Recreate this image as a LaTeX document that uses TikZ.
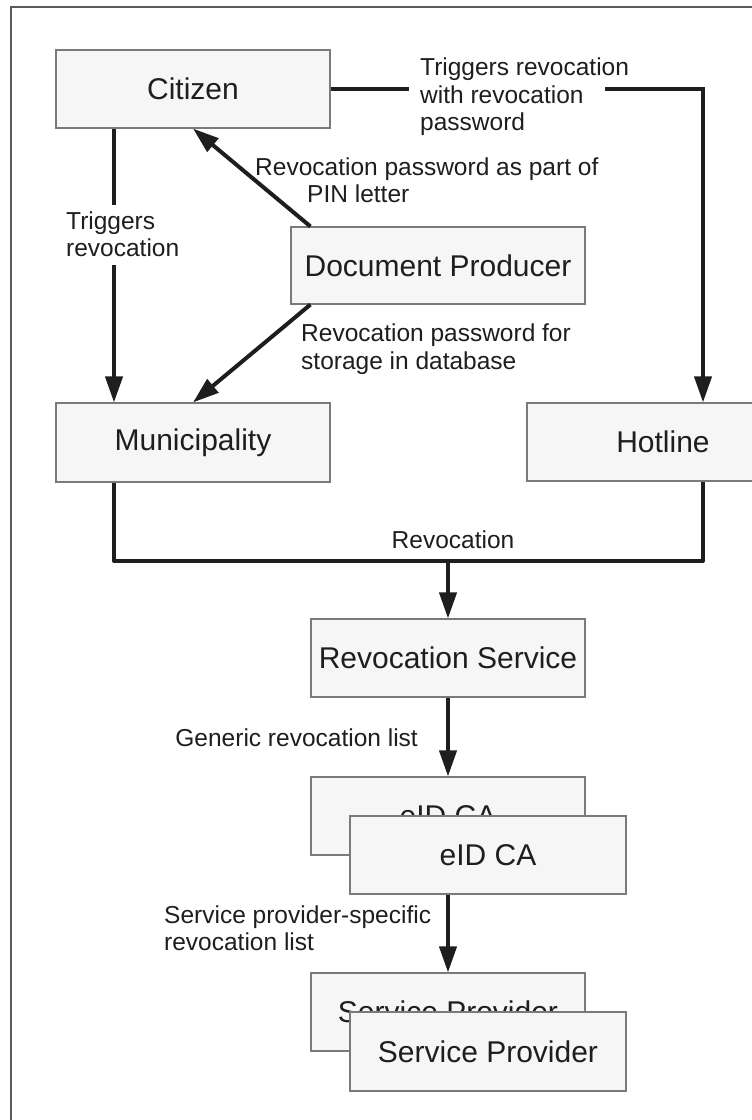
\documentclass[tikz,border=0pt]{standalone}
\usepackage{fontspec}
\setmainfont{Liberation Sans}
\usetikzlibrary{arrows.meta,calc}
\definecolor{boxfill}{HTML}{F6F6F6}
\definecolor{boxline}{HTML}{7A7A7A}
\definecolor{ink}{HTML}{1E1E1E}
\definecolor{framec}{HTML}{5A5A5A}
\tikzset{
  box/.style={draw=boxline, fill=boxfill, line width=1.1pt, minimum width=274pt, minimum height=78pt,
    inner sep=0pt, text=ink, font=\fontsize{30}{34}\selectfont},
  conn/.style={draw=ink, line width=4pt},
  arr/.style={conn, -{Triangle[length=26pt,width=17pt]}},
  lbl/.style={text=ink, inner sep=0pt, align=left, font=\fontsize{24.5}{27.5}\selectfont},
}
\begin{document}
\begin{tikzpicture}[x=1pt,y=-1pt]
\clip (0,0) rectangle (752,1120);
\fill[white] (0,0) rectangle (752,1120);
\draw[framec, line width=2pt] (10.5,7) rectangle (900,1300);

% boxes
\node[box] (cit) at (193,89) {Citizen};
\node[box, minimum width=294pt, minimum height=77pt] (doc) at (438,265.5) {Document Producer};
\node[box, minimum height=79pt] (mun) at (193,442.5) {Municipality};
\node[box, minimum width=272pt] (hot) at (663,442) {Hotline};
\node[box] (rs) at (448,658) {Revocation Service};
\node[box] (eidb) at (448,816) {eID CA};
\node[box, minimum width=276pt] (eidf) at (488,855) {eID CA};
\node[box] (spb) at (448,1012) {Service Provider};
\node[box, minimum width=276pt, minimum height=79pt] (spf) at (488,1051.5) {Service Provider};

% coordinates
\coordinate (gapL) at (409,89);
\coordinate (gapR) at (605,89);
\coordinate (tgA) at (114,205);
\coordinate (tgB) at (114,265);
\coordinate (join) at (448,561);

% connectors
\draw[conn] (cit.east) -- (gapL);
\draw[arr] (gapR) -| ([xshift=40pt]hot.north);
\draw[conn] ([xshift=-79pt]cit.south) -- (tgA);
\draw[arr] (tgB) -- ([xshift=-79pt]mun.north);
\draw[arr] ([xshift=20pt]doc.north west) -- (cit.south);
\draw[arr] ([xshift=20pt]doc.south west) -- (mun.north);
\draw[conn, line join=round] ([xshift=-79pt]mun.south) |- (join) -| ([xshift=40pt]hot.south);
\draw[arr] (join) -- (rs.north);
\draw[arr] (rs.south) -- (eidb.north);
\draw[arr] ([xshift=-40pt]eidf.south) -- (spb.north);

% labels
\node[lbl, anchor=west] (l1) at (420,97) {Triggers revocation\\with revocation\\password};
\node[lbl, anchor=west] (l2) at (66,234) {Triggers\\revocation};
\node[lbl, anchor=west] (l3) at (255,180) {Revocation password as part of\\\hspace*{52pt}PIN letter};
\node[lbl, anchor=west] (l4) at (301,349) {Revocation password for\\storage in database};
\node[lbl] (l5) at (453,540) {Revocation};
\node[lbl, anchor=east] (l6) at (418,738) {Generic revocation list};
\node[lbl, anchor=west] (l7) at (164,928) {Service provider-specific\\revocation list};
\end{tikzpicture}
\end{document}
